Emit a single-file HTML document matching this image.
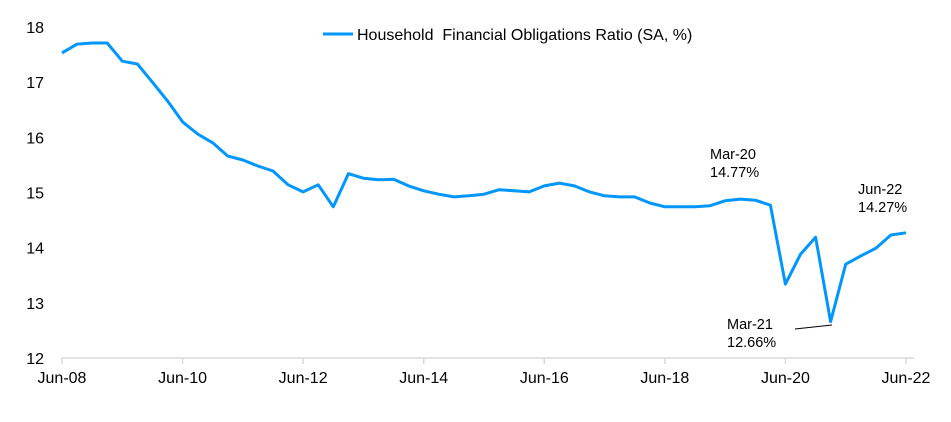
<!DOCTYPE html>
<html><head><meta charset="utf-8"><style>
body{margin:0;background:#fff;}
svg{display:block;font-family:"Liberation Sans",Arial,sans-serif;}
</style></head><body>
<svg id="chart" width="951" height="422" viewBox="0 0 951 422"></svg>
<script>
const categories=["Jun-08","Jun-10","Jun-12","Jun-14","Jun-16","Jun-18","Jun-20","Jun-22"];
const yTicks=[12,13,14,15,16,17,18];
const values=[17.53,17.69,17.71,17.71,17.38,17.33,17.0,16.66,16.28,16.06,15.9,15.66,15.59,15.48,15.39,15.14,15.01,15.14,14.74,15.34,15.26,15.23,15.24,15.12,15.03,14.97,14.92,14.94,14.97,15.05,15.03,15.01,15.12,15.17,15.12,15.01,14.94,14.92,14.92,14.81,14.74,14.74,14.74,14.76,14.85,14.88,14.86,14.77,13.34,13.88,14.19,12.66,13.70,13.85,13.99,14.23,14.27];
const NS="http://www.w3.org/2000/svg";
const svg=document.getElementById('chart');
const x0=62,x1=906,yTop=27,yBot=358,ymin=12,ymax=18;
const xs=i=>x0+(x1-x0)*i/(values.length-1);
const ys=v=>yBot-(v-ymin)/(ymax-ymin)*(yBot-yTop);
function mk(t,a){const e=document.createElementNS(NS,t);for(const k in a)e.setAttribute(k,a[k]);svg.appendChild(e);return e;}
// axis
const ax=mk('line',{x1:x0,y1:yBot,x2:x1+8,y2:yBot,stroke:'#d9d9d9','stroke-width':1.5});


yTicks.forEach(v=>{
 const t=mk('text',{x:44,y:ys(v)+6,'text-anchor':'end','font-size':16,fill:'#000'});
 t.textContent=v;
 
 
});
categories.forEach((c,k)=>{
 const i=k*8;const x=xs(i);
 const tk=mk('line',{x1:x,y1:yBot,x2:x,y2:yBot+6,stroke:'#d9d9d9','stroke-width':1.5});
 
 
 const t=mk('text',{x:x,y:yBot+25,'text-anchor':'middle','font-size':16,fill:'#000'});
 t.textContent=c;
 
 
});
const pts=values.map((v,i)=>xs(i).toFixed(1)+','+ys(v).toFixed(1)).join(' ');
const line=mk('polyline',{points:pts,fill:'none',stroke:'#0096ff','stroke-width':3,'stroke-linejoin':'round'});


// legend
const ll=mk('line',{x1:323,y1:34,x2:353,y2:34,stroke:'#0096ff','stroke-width':3});


const lt=mk('text',{x:357,y:40,'font-size':16,fill:'#000'});
lt.textContent='Household  Financial Obligations Ratio (SA, %)';


lt.setAttribute('xml:space','preserve');lt.style.whiteSpace='pre';
// annotations
function ann(lines,x,y,name){lines.forEach((s,j)=>{const t=mk('text',{x:x,y:y+j*18,'font-size':14.5,fill:'#000'});t.textContent=s;});}
ann(['Mar-20','14.77%'],710,159,'annotation-mar-20');
ann(['Jun-22','14.27%'],858,194,'annotation-jun-22');
ann(['Mar-21','12.66%'],727,329,'annotation-mar-21');
const al=mk('line',{x1:795,y1:329,x2:832,y2:325,stroke:'#000','stroke-width':1});


</script>
</body></html>
